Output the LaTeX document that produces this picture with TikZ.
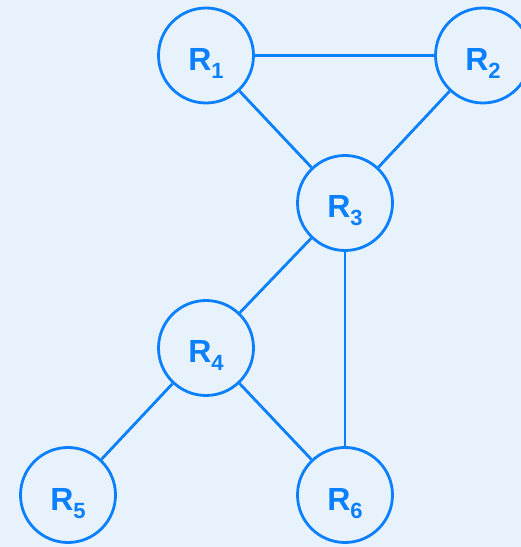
\documentclass[tikz,border=0pt]{standalone}
\usepackage{fontspec}
\setmainfont{Liberation Sans}
\definecolor{bg}{HTML}{E8F2FD}
\definecolor{nb}{HTML}{0A80FF}
\begin{document}
\begin{tikzpicture}[x=1pt,y=1pt,
  rnode/.style={circle,draw=nb,fill=bg,line width=2.8pt,minimum size=95pt,inner sep=0pt},
  rlabel/.style={text=nb,font=\fontsize{32}{32}\selectfont\bfseries,anchor=base,inner sep=0pt},
  link/.style={draw=nb,line width=2.8pt}]
\fill[bg] (0,0) rectangle (521,547);
\useasboundingbox (0,0) rectangle (521,547);
\clip (0,0) rectangle (521,547);
\coordinate (p1) at (206,491.5);
\coordinate (p2) at (483,491.5);
\coordinate (p3) at (345,344);
\coordinate (p4) at (206,199);
\coordinate (p5) at (68,52);
\coordinate (p6) at (345,52);
\foreach \i in {1,...,6} {
  \node[rnode] (r\i) at (p\i) {};
}
\path[link] (r1) -- (r2);
\path[link] (r1) -- (r3);
\path[link] (r2) -- (r3);
\path[link] (r3) -- (r4);
\path[link] (r3) -- (r6);
\path[link] (r4) -- (r5);
\path[link] (r4) -- (r6);
\foreach \i in {1,...,6} {
  \node[rlabel] (l\i) at ([yshift=-15pt]p\i) {R\raisebox{-8pt}{\fontsize{22}{22}\selectfont\bfseries \i}};
}
\end{tikzpicture}
\end{document}
